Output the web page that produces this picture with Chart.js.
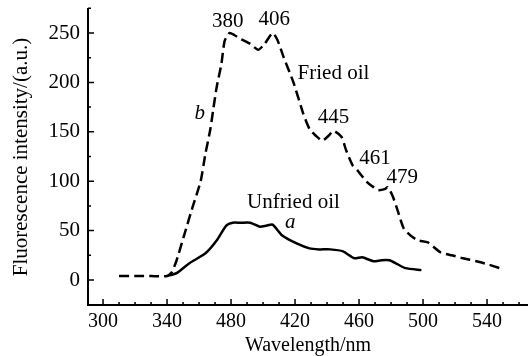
<!DOCTYPE html>
<html lang="en">
<head>
    <meta charset="UTF-8">
    <title>Fluorescence spectra</title>
    <script src="https://cdn.jsdelivr.net/npm/chart.js"></script>
    <style>
        body { margin: 0; background: #fff; }
        .chart-box { width: 528px; height: 356px; }
    </style>
</head>
<body>
    <div class="chart-box">
        <canvas id="chartContainer"></canvas>
    </div>

    <script>
        // Curve b: fried oil (dashed)
        const friedX = [310, 320, 330, 340, 343, 346, 351, 356, 361, 364, 367, 369, 371, 374, 376, 379, 382, 386, 392, 397, 401, 406, 409, 413, 419, 425, 429, 433, 437, 441, 444, 449, 452, 456, 459, 465, 469, 472, 476, 478, 481, 484, 488, 493, 497, 503, 511, 518, 525, 536, 548];
        const friedY = [4, 4, 4, 4, 8, 20, 47, 74, 100, 128, 152, 174, 195, 219, 242, 250, 248, 244, 239, 233, 239, 250, 243, 225, 200, 169, 153, 146, 141, 146, 151, 145, 131, 116, 111, 99, 94, 91, 92, 94, 85, 71, 52, 44, 40, 38, 28, 25, 22, 18, 12];

        // Curve a: unfried oil (solid)
        const unfriedX = [340, 346, 354, 364, 371, 377, 381, 386, 392, 398, 402, 406, 412, 421, 429, 435, 442, 450, 457, 462, 469, 474, 479, 484, 489, 499];
        const unfriedY = [4, 7, 17, 27, 40, 55, 58, 58, 58, 54, 55, 56, 45, 37, 32, 31, 31, 29, 22, 23, 19, 20, 20, 16, 12, 10];

        // tick labels as printed in the figure
        const xTickValues = [300, 340, 380, 420, 460, 500, 540];
        const xTickLabels = ['300', '340', '480', '420', '460', '500', '540'];
        const yTickValues = [0, 50, 100, 150, 200, 250];

        // peak annotations, in data coordinates
        const notes = [
            { text: '380', x: 378, y: 262 },
            { text: '406', x: 407, y: 264 },
            { text: 'Fried oil', x: 444, y: 209 },
            { text: '445', x: 444, y: 165 },
            { text: '461', x: 470, y: 123 },
            { text: '479', x: 487, y: 104 },
            { text: 'Unfried oil', x: 419, y: 78 },
            { text: 'a', x: 417, y: 58, italic: true },
            { text: 'b', x: 360.5, y: 169, italic: true }
        ];

        const serif = '"Liberation Serif", "Times New Roman", serif';

        function toPoints(xs, ys) {
            return xs.map((x, i) => ({ x: x, y: ys[i] }));
        }

        // inward tick marks + text labels
        const extras = {
            id: 'extras',
            afterDraw(chart) {
                const c = chart.ctx;
                const xs = chart.scales.x, ys = chart.scales.y;
                const area = chart.chartArea;
                c.save();
                c.strokeStyle = '#000';
                c.lineWidth = 1.5;
                c.beginPath();
                for (let v = 300; v <= 560; v += 10) {
                    const px = xs.getPixelForValue(v);
                    const len = (v - 300) % 40 === 0 ? 6 : 3;
                    c.moveTo(px, area.bottom);
                    c.lineTo(px, area.bottom - len);
                }
                for (let v = 0; v <= 275; v += 25) {
                    const py = ys.getPixelForValue(v);
                    const len = v % 50 === 0 ? 6 : 3;
                    c.moveTo(area.left, py);
                    c.lineTo(area.left + len, py);
                }
                c.stroke();

                c.fillStyle = '#000';
                c.textAlign = 'center';
                c.textBaseline = 'middle';
                notes.forEach(n => {
                    c.font = (n.italic ? 'italic ' : '') + '21px ' + serif;
                    c.fillText(n.text, xs.getPixelForValue(n.x), ys.getPixelForValue(n.y));
                });
                c.restore();
            }
        };

        const ctx = document.getElementById('chartContainer').getContext('2d');
        const myChart = new Chart(ctx, {
            type: 'line',
            data: {
                datasets: [
                    {
                        label: 'Fried oil',
                        data: toPoints(friedX, friedY),
                        borderColor: '#000',
                        borderWidth: 2.5,
                        borderDash: [10, 5],
                        pointRadius: 0,
                        tension: 0.2,
                        fill: false
                    },
                    {
                        label: 'Unfried oil',
                        data: toPoints(unfriedX, unfriedY),
                        borderColor: '#000',
                        borderWidth: 2.5,
                        pointRadius: 0,
                        tension: 0.2,
                        fill: false
                    }
                ]
            },
            options: {
                responsive: true,
                maintainAspectRatio: false,
                animation: false,
                layout: { padding: { top: 9, right: 0, left: 0, bottom: 0 } },
                plugins: { legend: { display: false }, tooltip: { enabled: false } },
                scales: {
                    x: {
                        type: 'linear',
                        min: 290.6,
                        max: 565.6,
                        afterBuildTicks: scale => {
                            scale.ticks = xTickValues.map(v => ({ value: v }));
                        },
                        afterFit: scale => {
                            scale.height = 51;
                            scale.paddingLeft = 0;
                            scale.paddingRight = 0;
                        },
                        grid: { display: false, drawTicks: false },
                        border: { display: true, color: '#000', width: 2 },
                        ticks: {
                            autoSkip: false,
                            maxRotation: 0,
                            padding: 5,
                            color: '#000',
                            font: { family: serif, size: 20 },
                            callback: value => xTickLabels[xTickValues.indexOf(value)] ?? ''
                        },
                        title: {
                            display: true,
                            text: 'Wavelength/nm',
                            color: '#000',
                            font: { family: serif, size: 20, lineHeight: 1 },
                            padding: 0
                        }
                    },
                    y: {
                        type: 'linear',
                        min: -25.3,
                        max: 274.3,
                        afterBuildTicks: scale => {
                            scale.ticks = yTickValues.map(v => ({ value: v }));
                        },
                        afterFit: scale => {
                            scale.width = 88;
                            scale.paddingTop = 0;
                            scale.paddingBottom = 0;
                        },
                        grid: { display: false, drawTicks: false },
                        border: { display: true, color: '#000', width: 2 },
                        ticks: {
                            autoSkip: false,
                            padding: 8,
                            color: '#000',
                            font: { family: serif, size: 21 }
                        },
                        title: {
                            display: true,
                            text: 'Fluorescence intensity/(a.u.)',
                            color: '#000',
                            font: { family: serif, size: 21, lineHeight: 1 },
                            padding: { top: 11, bottom: 0 }
                        }
                    }
                }
            },
            plugins: [extras]
        });
    </script>
</body>
</html>
